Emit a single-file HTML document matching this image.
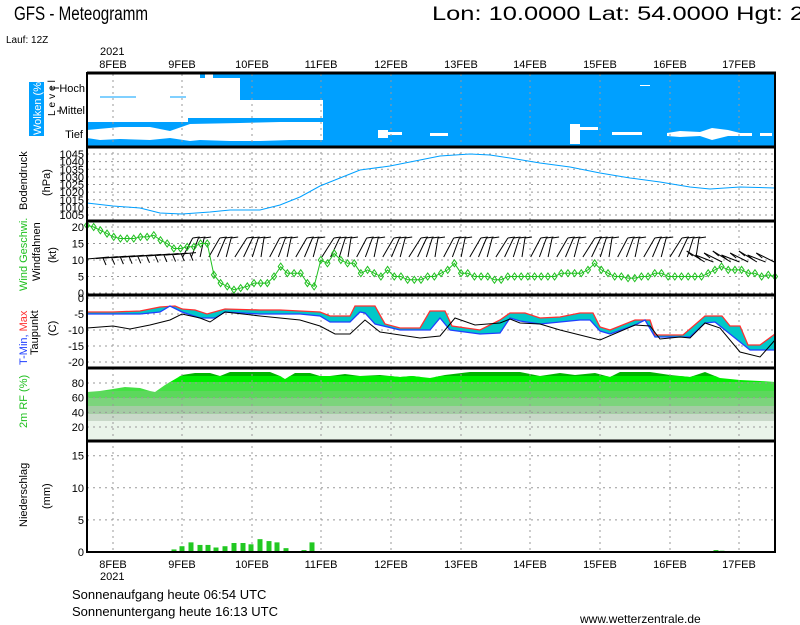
<!DOCTYPE html>
<html><head><meta charset="utf-8"><style>
html,body{margin:0;padding:0;background:#fff;width:800px;height:625px;overflow:hidden}
svg{display:block;font-family:"Liberation Sans",sans-serif}
</style></head><body>
<svg id="s" width="800" height="625" xmlns="http://www.w3.org/2000/svg">
<defs>
<clipPath id="rhc"><polygon points="87,441 87,392 100,391 113,389 125,387 140,388 150,391 155,392 165,385 182,375 195,373 210,373 220,376 230,372 270,372 280,376 285,379 295,373 310,373 320,376 330,376 345,374 360,376 380,375 400,377 412,376 430,378 445,375 470,372 500,372 520,372 540,376 560,373 575,375 595,373 610,377 620,372 650,372 670,375 690,377 705,372 720,378 740,380 760,381 775,382 775,441"/></clipPath>
<clipPath id="pc"><rect x="87" y="74" width="688" height="480"/></clipPath>
</defs>
<text x="14" y="20" font-size="19" textLength="134" lengthAdjust="spacingAndGlyphs">GFS - Meteogramm</text>
<text x="432" y="20" font-size="19" textLength="372" lengthAdjust="spacingAndGlyphs">Lon: 10.0000 Lat: 54.0000 Hgt: 2</text>
<text x="6" y="43" font-size="10">Lauf: 12Z</text>
<text x="100" y="55" font-size="11">2021</text>
<g id="topdates" font-size="11"></g>
<g id="botdates" font-size="11"></g>
<text x="100" y="580" font-size="11">2021</text>

<!-- Cloud panel -->
<rect x="87" y="74" width="688" height="73" fill="#00a0ff"/>
<g fill="#fff">
<rect x="87" y="74" width="101" height="48"/>
<rect x="188" y="78" width="52" height="16"/>
<rect x="188" y="74" width="12" height="4"/>
<rect x="205" y="74" width="8" height="4"/>
<rect x="188" y="100" width="135" height="18"/>
<polygon points="188,94 240,94 240,100 188,100"/>
<polygon points="87,130 120,127 150,127 170,131 190,124 240,123 280,122 323,122 323,140 290,140 260,141 230,141 200,140 190,141 170,138 150,140 120,139 100,140 87,138"/>
<rect x="378" y="130" width="10" height="8"/><rect x="388" y="132" width="14" height="3"/>
<rect x="430" y="133" width="18" height="3"/>
<rect x="570" y="124" width="10" height="20"/><rect x="580" y="127" width="18" height="3"/>
<rect x="612" y="132" width="30" height="3"/>
<polygon points="667,133 680,131 700,132 712,128 728,130 740,133 752,133 752,136 728,136 712,140 700,136 680,137 667,136"/>
<rect x="760" y="133" width="12" height="3"/>
<rect x="640" y="85" width="10" height="1"/>
</g>
<line x1="100" y1="97" x2="136" y2="97" stroke="#00a0ff" stroke-width="1"/>
<line x1="170" y1="97" x2="186" y2="97" stroke="#00a0ff"/>

<!-- RH bands -->
<g clip-path="url(#rhc)">
<rect x="87" y="368" width="688" height="9" fill="#00b400"/>
<rect x="87" y="376" width="688" height="7" fill="#00ee00"/>
<rect x="87" y="382" width="688" height="9" fill="#44e044"/>
<rect x="87" y="391" width="688" height="7" fill="#5cd85c"/>
<rect x="87" y="398" width="688" height="8" fill="#7cd47c"/>
<rect x="87" y="406" width="688" height="8" fill="#a4cca4"/>
<rect x="87" y="414" width="688" height="7" fill="#c8d8c8"/>
<rect x="87" y="421" width="688" height="21" fill="#eaf4ea"/>
</g>

<g id="grid" stroke="#999" stroke-width="1" stroke-dasharray="2,4"></g>

<!-- pressure -->
<polyline fill="none" stroke="#00a0ff" stroke-width="1" points="87,203 113,206 140,208 160,213 182,214 210,212 230,210 260,210 280,205 300,197 320,186 340,178 360,170 390,166 420,160 440,156 470,154 490,155 510,158 540,163 570,167 600,173 630,178 660,182 690,187 710,189 740,187 775,188"/>

<!-- temperature -->
<polygon id="tfill" fill="#00c8c8"/>
<polyline id="tmax" fill="none" stroke="#ff3030" stroke-width="1.3"/>
<polyline id="tmin" fill="none" stroke="#2040ff" stroke-width="1.3"/>
<polyline id="tdew" fill="none" stroke="#000" stroke-width="1"/>

<g id="barbs" stroke="#000" stroke-width="1" fill="none" clip-path="url(#pc)"></g>
<polyline id="ws" fill="none" stroke="#20c020" stroke-width="1"/>
<g id="wsd" fill="none" stroke="#20c020"></g>

<g id="prec" fill="#22c822"></g>

<g id="ylab" font-size="11" text-anchor="end"></g>

<!-- panel frames -->
<g stroke="#000" fill="none">
<line x1="87" y1="73" x2="776" y2="73" stroke-width="3"/>
<line x1="87" y1="147" x2="776" y2="147" stroke-width="3"/>
<line x1="87" y1="221" x2="776" y2="221" stroke-width="3"/>
<line x1="87" y1="295" x2="776" y2="295" stroke-width="3"/>
<line x1="87" y1="368" x2="776" y2="368" stroke-width="3"/>
<line x1="87" y1="441" x2="776" y2="441" stroke-width="3"/>
<line x1="87" y1="552" x2="776" y2="552" stroke-width="2"/>
<line x1="87" y1="72" x2="87" y2="553" stroke-width="2"/>
<line x1="775" y1="72" x2="775" y2="553" stroke-width="2"/>
</g>

<!-- rotated labels -->
<rect x="29" y="82" width="15" height="54" fill="#00a0ff"/>
<text transform="translate(41,135) rotate(-90)" font-size="11" fill="#fff">Wolken (%)</text>
<text transform="translate(55,116) rotate(-90)" font-size="10" letter-spacing="3">Level</text>
<text x="85" y="92" font-size="11" text-anchor="end">Hoch</text>
<text x="85" y="114" font-size="11" text-anchor="end">Mittel</text>
<text x="83" y="138" font-size="11" text-anchor="end">Tief</text>
<g stroke="#000"><line x1="50" y1="88" x2="59" y2="88"/><line x1="57" y1="111" x2="61" y2="111"/></g>
<text transform="translate(27,210) rotate(-90)" font-size="11">Bodendruck</text>
<text transform="translate(50,196) rotate(-90)" font-size="11">(hPa)</text>
<text transform="translate(27,291) rotate(-90)" font-size="11" fill="#20c020">Wind Geschwi.</text>
<text transform="translate(40,281) rotate(-90)" font-size="11">Windfahnen</text>
<text transform="translate(56,263) rotate(-90)" font-size="11">(kt)</text>
<text transform="translate(27,365) rotate(-90)" font-size="11"><tspan fill="#2040ff">T-Min, </tspan><tspan fill="#ff3030">Max</tspan></text>
<text transform="translate(38,355) rotate(-90)" font-size="11">Taupunkt</text>
<text transform="translate(56,336) rotate(-90)" font-size="11">(C)</text>
<text transform="translate(27,428) rotate(-90)" font-size="11" fill="#20c020">2m RF (%)</text>
<text transform="translate(27,527) rotate(-90)" font-size="11">Niederschlag</text>
<text transform="translate(50,509) rotate(-90)" font-size="11">(mm)</text>

<text x="72" y="599" font-size="13">Sonnenaufgang heute 06:54 UTC</text>
<text x="72" y="616" font-size="13">Sonnenuntergang heute 16:13 UTC</text>
<text x="580" y="623" font-size="12">www.wetterzentrale.de</text>
</svg>
<script>
var NS="http://www.w3.org/2000/svg";
function el(p,t,a,txt){var e=document.createElementNS(NS,t);for(var k in a)e.setAttribute(k,a[k]);if(txt!=null)e.textContent=txt;document.getElementById(p).appendChild(e);return e;}
var days=[113,182,252,321,391,461,530,600,670,739];
days.forEach(function(x,i){var l=(8+i)+"FEB";el("topdates","text",{x:x,y:68,"text-anchor":"middle"},l);el("botdates","text",{x:x,y:568,"text-anchor":"middle"},l);
 el("grid","line",{x1:x,y1:74,x2:x,y2:552});});
function hl(y){el("grid","line",{x1:87,y1:y,x2:775,y2:y});}
function lab(x,y,t){el("ylab","text",{x:x,y:y+4},t);}
for(var p=1005;p<=1045;p+=5){var y=215-(p-1005)*1.525;hl(y);lab(84,y,p);}
for(var w=0;w<=20;w+=5){var y=293-w*3.3;hl(y);lab(84,y,w);}
for(var t=0;t>=-20;t-=5){var y=298-t*3.2;hl(y);lab(84,y,t);}
for(var r=20;r<=80;r+=20){var y=441.7-r*0.733;hl(y);lab(84,y,r);}
for(var m=0;m<=15;m+=5){var y=552-m*6.42;hl(y);lab(84,y,m);}
var mx=[[87,312],[113,312],[140,311],[160,307],[175,306],[182,309],[195,310],[207,314],[225,309],[260,310],[280,310],[300,311],[320,312],[330,316],[350,316],[355,306],[375,306],[385,324],[400,328],[420,328],[430,311],[445,311],[452,326],[480,330],[500,320],[510,313],[525,313],[540,318],[560,317],[580,313],[593,313],[600,327],[610,330],[635,320],[650,320],[655,335],[683,335],[705,316],[722,316],[730,326],[740,326],[748,345],[760,345],[775,334]];
var mn=[[87,314],[113,314],[140,314],[160,312],[170,306],[182,312],[200,318],[215,318],[225,312],[260,314],[300,314],[320,316],[330,322],[350,322],[360,312],[365,313],[375,324],[400,330],[430,330],[440,318],[450,330],[480,334],[500,333],[510,318],[520,321],[540,324],[560,322],[580,320],[590,320],[600,331],[610,334],[635,325],[645,320],[655,337],[690,337],[705,323],[715,322],[740,342],[750,350],[775,350]];
var dw=[[87,328],[100,327],[113,326],[130,329],[150,325],[170,320],[182,314],[200,318],[210,322],[225,312],[260,316],[300,320],[320,326],[335,334],[350,334],[365,320],[380,332],[420,338],[440,336],[455,318],[475,325],[500,323],[510,319],[520,323],[540,324],[560,330],[580,335],[600,340],[635,325],[650,326],[660,339],[680,337],[690,338],[705,323],[720,328],[740,352],[760,357],[775,340]];
function ps(a){return a.map(function(p){return p[0]+","+p[1]}).join(" ");}
document.getElementById("tmax").setAttribute("points",ps(mx));
document.getElementById("tmin").setAttribute("points",ps(mn));
document.getElementById("tdew").setAttribute("points",ps(dw));
document.getElementById("tfill").setAttribute("points",ps(mx)+" "+ps(mn.slice().reverse()));
var ws=[20.5,20,19,18,17,16.5,16.5,16.5,17,17,17.5,16,15,13.5,13.5,14,14,15,15,5.5,3,2,1,1.5,2,3,3,3,5,8,6,6,6,3,2,10,9,12,10,9,9,6,7,6,5,7,5,5,4,4,4,5,5,6,7,9,6,6,5,5,5,4,4,5,5,5,5,5,5,5,5,6,6,6,6,7,9,7,6,5,5,4.5,4.5,5,5,6,6,5,5,5,5,5,5,6,7,8,7,7,7,6,6,5,5.5,5];
var n=ws.length,pts=[];
for(var i=0;i<n;i++){var x=87+i*(688/(n-1)),y=293-ws[i]*3.3;pts.push(x+","+y);
 el("wsd","polygon",{points:(x-2.5)+","+y+" "+x+","+(y-3.5)+" "+(x+2.5)+","+y+" "+x+","+(y+3.5)});}
document.getElementById("ws").setAttribute("points",pts.join(" "));
var k=0;
for(var x=87;x<=775;x+=8.7,k++){var bx=x,by,ex,ey;
 if(x<180){by=259-(x-87)*0.05;ex=bx+22;ey=by-2;
  el("barbs","line",{x1:bx,y1:by,x2:ex,y2:ey});el("barbs","line",{x1:bx+16,y1:by-1,x2:bx+19,y2:by+6});continue;}
 if(x>700){by=262;var ang=-160-(k%3)*6;var r=ang*Math.PI/180;ex=bx-20*Math.cos(r)*-1;ey=by+20*Math.sin(r);
  ex=bx-18;ey=by-7-(k%3)*2;el("barbs","line",{x1:bx,y1:by,x2:ex,y2:ey});el("barbs","line",{x1:ex,y1:ey,x2:ex+6,y2:ey+5});continue;}
 by=257;var dx=3+(k*7)%10, h=19;ex=bx+dx;ey=by-h;
 el("barbs","line",{x1:bx,y1:by,x2:ex,y2:ey});
 el("barbs","line",{x1:ex,y1:ey,x2:ex+7,y2:ey-1});
}
[[174,0.4],[182,0.9],[191,1.5],[200,1.1],[208,1.1],[216,0.7],[225,0.9],[234,1.4],[243,1.4],[251,1.2],[260,2],[269,1.7],[277,1.5],[286,0.6],[295,0.1],[304,0.3],[312,1.5],[716,0.3],[722,0.2]].forEach(function(b){var h=b[1]*6.42;el("prec","rect",{x:b[0]-2.5,y:552-h,width:5,height:h});});
</script>
</body></html>
